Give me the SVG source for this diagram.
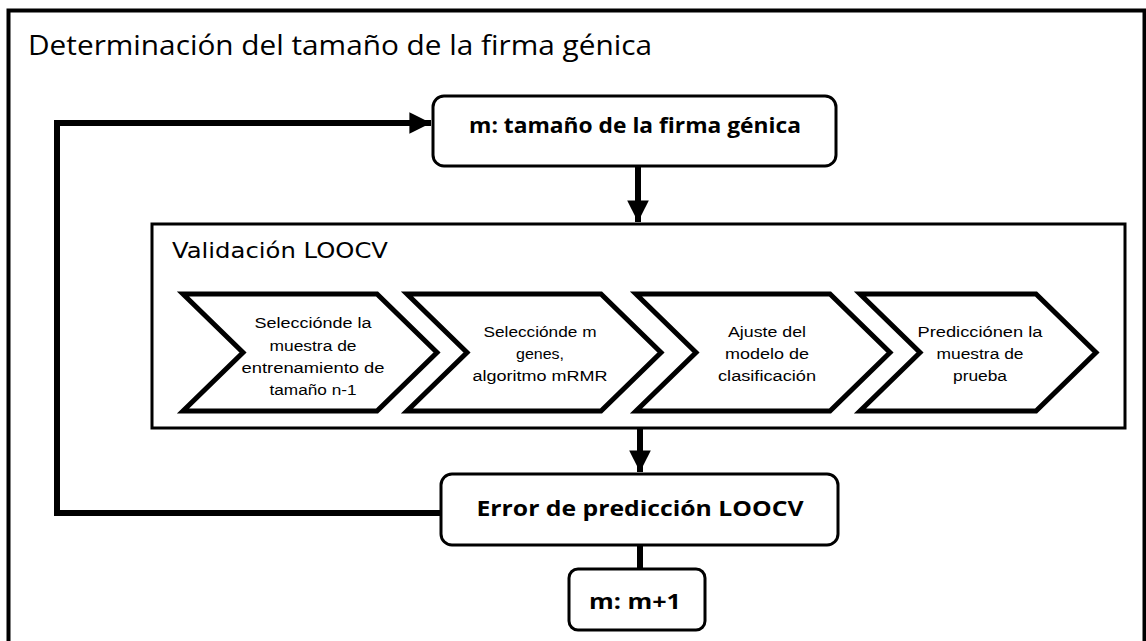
<svg xmlns="http://www.w3.org/2000/svg" width="1146" height="641" viewBox="0 0 1146 641">
<defs>
<style>
.frame{fill:#fff;stroke:#000;stroke-width:4}
.box{fill:#fff;stroke:#000;stroke-width:3}
.chev{fill:#fff;stroke:#000;stroke-width:5;stroke-linejoin:miter}
.conn{fill:none;stroke:#000;stroke-width:6;stroke-linejoin:miter}
.title{font-family:"Open Sans","Liberation Sans",sans-serif;font-size:27px;font-weight:500;fill:#000}
.lbl{font-family:"Open Sans","Liberation Sans",sans-serif;font-weight:bold;font-size:21px;fill:#000;text-anchor:middle}
.val{font-family:"DejaVu Sans","Liberation Sans",sans-serif;font-size:21px;fill:#000}
.ct{font-family:"Liberation Sans","Open Sans",sans-serif;font-size:15.5px;fill:#000;text-anchor:middle}
</style>
<marker id="ah" markerWidth="4" markerHeight="4" refX="3.6" refY="2" orient="auto" markerUnits="strokeWidth">
<path d="M0,0.2 L3.6,2 L0,3.8 Z" fill="#000"/>
</marker>
</defs>
<rect x="0" y="0" width="1146" height="641" fill="#fff"/>
<g id="frame">
<rect class="frame" x="8.5" y="10.5" width="1136" height="660"/>
<text class="title" x="28" y="55" textLength="624" lengthAdjust="spacingAndGlyphs">Determinación del tamaño de la firma génica</text>
</g>
<g id="connectors">
<line class="conn" x1="638" y1="166" x2="638" y2="222" marker-end="url(#ah)"/>
<line class="conn" x1="640" y1="428" x2="640" y2="472" marker-end="url(#ah)"/>
<line class="conn" x1="640" y1="545" x2="640" y2="569"/>
<path class="conn" d="M441,513 L57,513 L57,123 L431,123" marker-end="url(#ah)"/>
</g>
<g id="node-size">
<rect class="box" x="433" y="96" width="403" height="70" rx="11"/>
<text class="lbl" x="635" y="133" textLength="332" lengthAdjust="spacingAndGlyphs">m: tamaño de la firma génica</text>
</g>
<g id="node-loocv">
<rect class="box" x="152" y="224" width="973" height="204"/>
<text class="val" x="172" y="258" textLength="216" lengthAdjust="spacingAndGlyphs">Validación  LOOCV</text>
</g>
<g id="step-1">
<polygon class="chev" points="183,294 377,294 437,352.5 377,411 183,411 243,352.5"/>
<text class="ct" x="313" y="328" textLength="117" lengthAdjust="spacingAndGlyphs">Selecciónde la</text>
<text class="ct" x="313" y="351" textLength="87" lengthAdjust="spacingAndGlyphs">muestra de</text>
<text class="ct" x="313" y="373" textLength="143" lengthAdjust="spacingAndGlyphs">entrenamiento de</text>
<text class="ct" x="313" y="395" textLength="87" lengthAdjust="spacingAndGlyphs">tamaño n-1</text>
</g>
<g id="step-2">
<polygon class="chev" points="407,294 601,294 661,352.5 601,411 407,411 467,352.5"/>
<text class="ct" x="540" y="337" textLength="113" lengthAdjust="spacingAndGlyphs">Selecciónde m</text>
<text class="ct" x="540" y="359" textLength="48" lengthAdjust="spacingAndGlyphs">genes,</text>
<text class="ct" x="540" y="381" textLength="135" lengthAdjust="spacingAndGlyphs">algoritmo mRMR</text>
</g>
<g id="step-3">
<polygon class="chev" points="636,294 830,294 890,352.5 830,411 636,411 696,352.5"/>
<text class="ct" x="767" y="337" textLength="78" lengthAdjust="spacingAndGlyphs">Ajuste del</text>
<text class="ct" x="767" y="359" textLength="84" lengthAdjust="spacingAndGlyphs">modelo de</text>
<text class="ct" x="767" y="381" textLength="98" lengthAdjust="spacingAndGlyphs">clasificación</text>
</g>
<g id="step-4">
<polygon class="chev" points="860,294 1036,294 1096,352.5 1036,411 860,411 920,352.5"/>
<text class="ct" x="980" y="337" textLength="125" lengthAdjust="spacingAndGlyphs">Predicciónen la</text>
<text class="ct" x="980" y="359" textLength="87" lengthAdjust="spacingAndGlyphs">muestra de</text>
<text class="ct" x="980" y="381" textLength="54" lengthAdjust="spacingAndGlyphs">prueba</text>
</g>
<g id="node-error">
<rect class="box" x="441" y="474" width="397" height="71" rx="11"/>
<text class="lbl" x="640" y="516" textLength="327" lengthAdjust="spacingAndGlyphs">Error de predicción LOOCV</text>
</g>
<g id="node-increment">
<rect class="box" x="569" y="569" width="136" height="61" rx="9"/>
<text class="lbl" x="635" y="609" textLength="92" lengthAdjust="spacingAndGlyphs">m: m+1</text>
</g>
</svg>
